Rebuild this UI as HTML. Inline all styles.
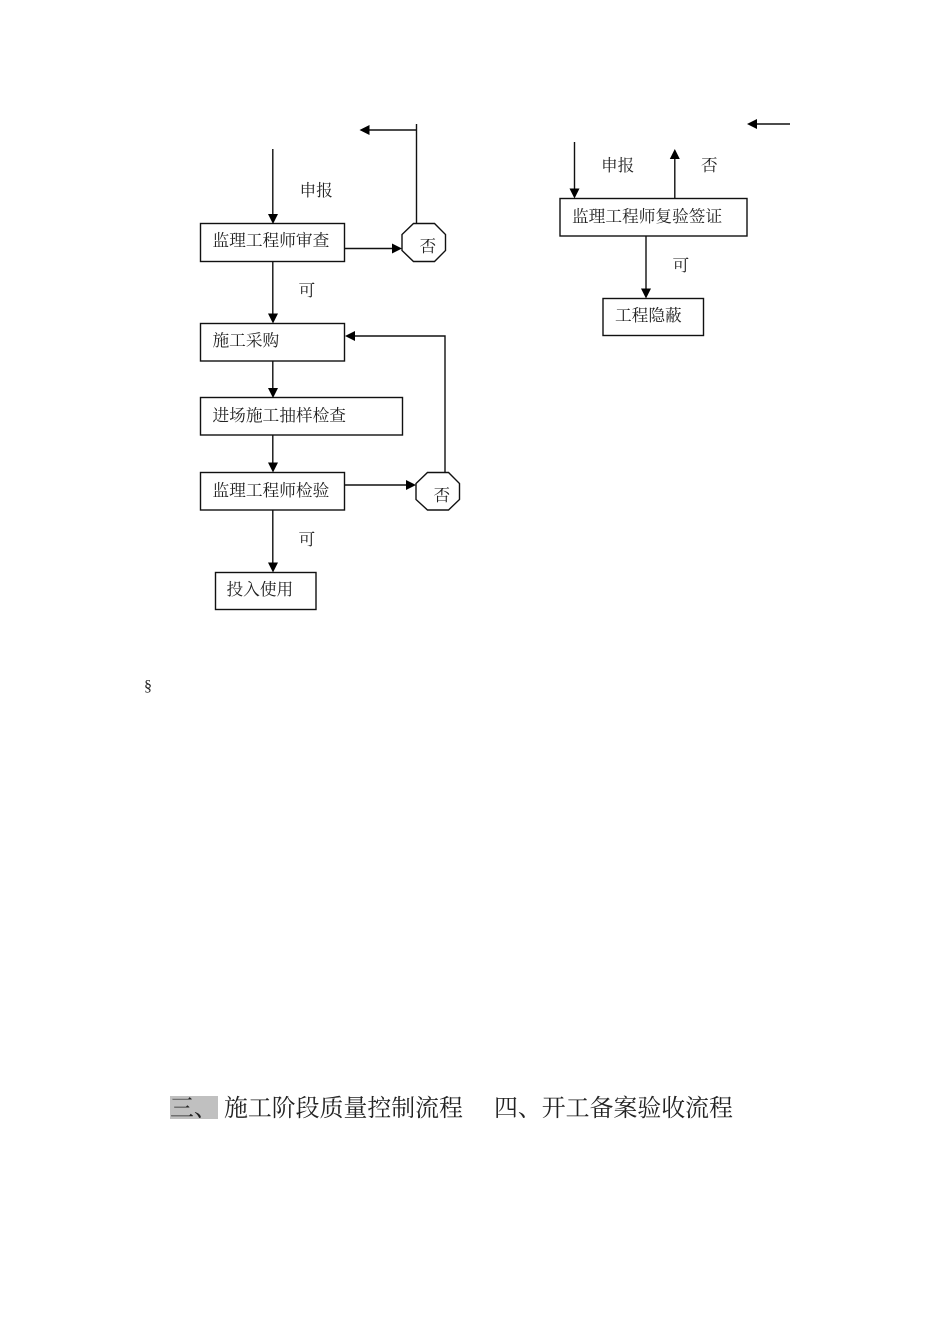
<!DOCTYPE html>
<html lang="zh">
<head>
<meta charset="utf-8">
<title>施工阶段质量控制流程</title>
<style>
html,body{margin:0;padding:0;background:#fff;}
svg{display:block;}
text{font-family:"Liberation Serif","Noto Serif CJK SC",serif;font-size:16.7px;fill:#222;}
.t{font-size:23.9px;fill:#222;}
.s{fill:none;stroke:#111;stroke-width:1.4;}
.a{fill:#000;stroke:none;}
</style>
</head>
<body>
<svg width="950" height="1344" viewBox="0 0 950 1344" xmlns="http://www.w3.org/2000/svg">
<!-- boxes -->
<rect class="s" x="200.500" y="223.500" width="144" height="38"/>
<rect class="s" x="200.500" y="323.500" width="144" height="37.500"/>
<rect class="s" x="200.500" y="397.500" width="202" height="37.500"/>
<rect class="s" x="200.500" y="472.500" width="144" height="37.500"/>
<rect class="s" x="215.500" y="572.500" width="100.500" height="37"/>
<rect class="s" x="560" y="198.500" width="187" height="37.500"/>
<rect class="s" x="603" y="298.500" width="100.500" height="37"/>
<!-- octagons -->
<polygon class="s" points="413.500,223.500 434.500,223.500 445.500,234.500 445.500,250.500 434.500,261.500 413.500,261.500 402,250.500 402,234.500"/>
<polygon class="s" points="427.500,472.500 448.500,472.500 459.500,483.500 459.500,499.500 448.500,510 427.500,510 416,499.500 416,483.500"/>
<!-- lines -->
<path class="s" d="M272.800 149V216M272.800 261.500V316M272.800 361V391M272.800 435V465M272.800 510V565"/>
<path class="s" d="M344.500 248.500H395M416.500 124V223.500M416.500 130H367M344.500 485H409M445 472.500V336H352"/>
<path class="s" d="M574.500 142V191M674.800 198.500V157M646 236V291M790 124H755"/>
<!-- arrowheads -->
<path class="a" d="M268 214H278L273 224ZM268 313.500H278L273 323.500ZM268 388H278L273 398ZM268 462.500H278L273 472.500ZM268 562.500H278L273 572.500Z"/>
<path class="a" d="M392 243.500L402 248.500L392 253.500ZM406 480L416 485L406 490ZM369.500 125L359.500 130L369.500 135ZM355 331L345 336L355 341Z"/>
<path class="a" d="M569.500 188.500H579.500L574.500 198.500ZM669.800 159H679.800L674.800 149ZM641 288.500H651L646 298.500ZM757 119L747 124L757 129Z"/>
<!-- labels -->
<text x="299.500" y="196">申报</text>
<text x="212.500" y="246">监理工程师审查</text>
<text x="419.500" y="252">否</text>
<text x="298.500" y="296">可</text>
<text x="212.500" y="346">施工采购</text>
<text x="212.500" y="421">进场施工抽样检查</text>
<text x="212.500" y="496">监理工程师检验</text>
<text x="433.500" y="501">否</text>
<text x="298.500" y="545">可</text>
<text x="226.500" y="595">投入使用</text>
<text x="601" y="171">申报</text>
<text x="701" y="171">否</text>
<text x="572" y="222">监理工程师复验签证</text>
<text x="672.500" y="271">可</text>
<text x="615" y="321">工程隐蔽</text>
<text x="144" y="691" style="font-size:16px">§</text>
<!-- heading -->
<rect x="170" y="1096" width="48" height="23" fill="#c0c0c0"/>
<text class="t" x="170" y="1116">三、</text>
<text class="t" x="224" y="1116">施工阶段质量控制流程</text>
<text class="t" x="494" y="1116">四、开工备案验收流程</text>
</svg>
</body>
</html>
